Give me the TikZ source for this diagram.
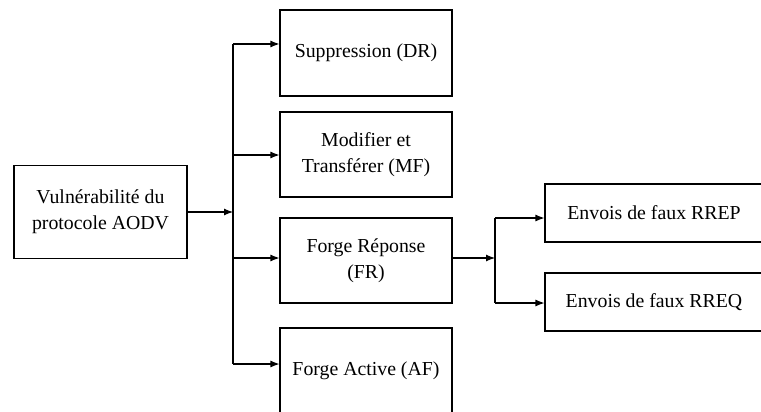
\documentclass[tikz,border=0pt]{standalone}
\usepackage{fontspec}
\setmainfont{Liberation Serif}
\usetikzlibrary{arrows.meta}
\begin{document}
\begin{tikzpicture}[x=1pt,y=-1pt,
  box/.style={draw,line width=1.1pt,align=center,inner sep=0pt,
    font=\fontsize{19.8}{26}\selectfont},
  conn/.style={line width=1.1pt},
  arr/.style={conn,-{Latex[length=9pt,width=7pt]}}]
\useasboundingbox (0,0) rectangle (761,412);
\clip (0,0) rectangle (761,412);
\node[box,minimum width=173pt,minimum height=93pt] (V) at (100.5,212) {Vulnérabilité du\\protocole AODV};
\node[box,minimum width=172pt,minimum height=86pt] (DR) at (366,53) {Suppression (DR)};
\node[box,minimum width=172pt,minimum height=85pt] (MF) at (366,154.5) {Modifier et\\Transférer (MF)};
\node[box,minimum width=172pt,minimum height=85pt] (FR) at (366,260.5) {Forge Réponse\\(FR)};
\node[box,minimum width=172pt,minimum height=86pt] (AF) at (366,371) {Forge Active (AF)};
\node[box,minimum width=218pt,minimum height=58pt] (RP) at (654,213) {Envois de faux RREP};
\node[box,minimum width=218pt,minimum height=58pt] (RQ) at (654,302) {Envois de faux RREQ};
\coordinate (b1) at (233,44);
\coordinate (b2) at (233,155);
\coordinate (b3) at (233,258);
\coordinate (b4) at (233,364);
\coordinate (bi) at (233,212);
\coordinate (c1) at (495,218);
\coordinate (c2) at (495,303);
\coordinate (ci) at (495,258);
\draw[conn] (b1) -- (b4);
\draw[arr] (V.east |- bi) -- (bi);
\draw[arr] (b1) -- (b1 -| DR.west);
\draw[arr] (b2) -- (b2 -| MF.west);
\draw[arr] (b3) -- (b3 -| FR.west);
\draw[arr] (b4) -- (b4 -| AF.west);
\draw[conn] (c1) -- (c2);
\draw[arr] (FR.east |- ci) -- (ci);
\draw[arr] (c1) -- (c1 -| RP.west);
\draw[arr] (c2) -- (c2 -| RQ.west);
\end{tikzpicture}
\end{document}
